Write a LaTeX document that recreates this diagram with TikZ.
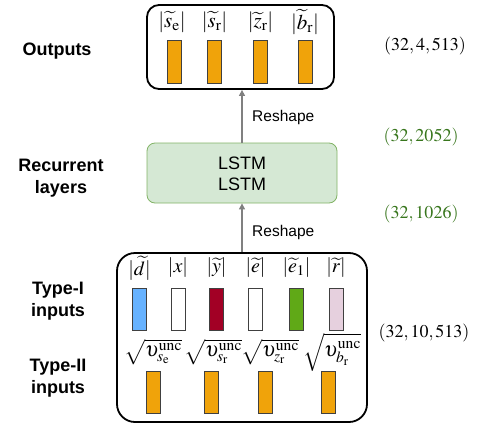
\documentclass[tikz,border=0pt]{standalone}
\IfFileExists{mathptmx.sty}{\usepackage{mathptmx}}{}
\usepackage{fontspec}
\setmainfont{Liberation Serif}
\newfontfamily\lsans{Liberation Sans}
\usetikzlibrary{arrows.meta}
\definecolor{barorange}{HTML}{F0A30A}
\definecolor{barblue}{HTML}{66B2FF}
\definecolor{barred}{HTML}{A20025}
\definecolor{bargreen}{HTML}{60A917}
\definecolor{barpink}{HTML}{E6D0DE}
\definecolor{lstmfill}{HTML}{D5E8D4}
\definecolor{lstmdraw}{HTML}{82B366}
\definecolor{dimgreen}{RGB}{56,118,29}
\begin{document}
\begin{tikzpicture}[x=1pt,y=-1pt,
  bigbox/.style={draw=black,line width=1.8pt,rounded corners=12pt,inner sep=0pt},
  bar/.style={draw=black!75,line width=0.8pt,minimum width=14pt,minimum height=43pt,inner sep=0pt},
  olabel/.style={inner sep=0pt,font=\fontsize{21}{24}\selectfont},
  ilabel/.style={inner sep=0pt,font=\fontsize{20}{24}\selectfont},
  slabel/.style={inner sep=0pt,font=\fontsize{21}{24}\selectfont},
  side/.style={inner sep=0pt,align=center,font=\lsans\bfseries\fontsize{18}{22}\selectfont},
  dim/.style={inner sep=0pt,font=\fontsize{18}{20}\selectfont},
  reshape/.style={anchor=west,inner sep=0pt,font=\lsans\fontsize{15.5}{18}\selectfont},
  lstmtext/.style={inner sep=0pt,font=\lsans\fontsize{18}{20}\selectfont},
  arr/.style={draw=black!50,line width=1.3pt,-{Triangle[length=6pt,width=6pt]}}]
\useasboundingbox (0,0) rectangle (481,428);

% boxes
\node[bigbox,minimum width=187pt,minimum height=84pt] (out) at (240.5,47) {};
\node[draw=lstmdraw,fill=lstmfill,line width=0.8pt,rounded corners=8pt,minimum width=190pt,minimum height=60pt,inner sep=0pt] (lstm) at (242,173) {};
\node[lstmtext] (l1) at (242,163) {LSTM};
\node[lstmtext] (l2) at (242,184) {LSTM};
\node[bigbox,rounded corners=18pt,minimum width=250pt,minimum height=169pt] (in) at (242,337.5) {};

% arrows
\draw[arr] (in.north) -- (in.north |- lstm.south);
\draw[arr] (lstm.north) -- (lstm.north |- out.south);
\node[reshape] (r1) at (252,117) {Reshape};
\node[reshape] (r2) at (252,232) {Reshape};

% output labels and bars
\node[olabel] (o1) at (172,22) {$|\widetilde{s}_{\mathrm{e}}|$};
\node[olabel] (o2) at (214.5,22) {$|\widetilde{s}_{\mathrm{r}}|$};
\node[olabel] (o3) at (260.5,22) {$|\widetilde{z}_{\mathrm{r}}|$};
\node[olabel] (o4) at (305,22) {$|\widetilde{b}_{\mathrm{r}}|$};
\node[bar,fill=barorange] (ob1) at (174.5,61.5) {};
\node[bar,fill=barorange] (ob2) at (214.5,61.5) {};
\node[bar,fill=barorange] (ob3) at (260.5,61.5) {};
\node[bar,fill=barorange] (ob4) at (305,61.5) {};

% type-I inputs
\node[ilabel] (i1) at (139.5,268) {$|\widetilde{d}|$};
\node[ilabel] (i2) at (178,268) {$|x|$};
\node[ilabel] (i3) at (216.5,268) {$|\widetilde{y}|$};
\node[ilabel] (i4) at (255.5,268) {$|\widetilde{e}|$};
\node[ilabel] (i5) at (296.5,268) {$|\widetilde{e}_1|$};
\node[ilabel] (i6) at (336,268) {$|\widetilde{r}|$};
\node[bar,fill=barblue,minimum height=42pt] (ib1) at (139.5,309) {};
\node[bar,fill=white,minimum height=42pt] (ib2) at (178,309) {};
\node[bar,fill=barred,minimum height=42pt] (ib3) at (216.5,309) {};
\node[bar,fill=white,minimum height=42pt] (ib4) at (255.5,309) {};
\node[bar,fill=bargreen,minimum height=42pt] (ib5) at (296.5,309) {};
\node[bar,fill=barpink,minimum height=42pt] (ib6) at (336,309) {};

% type-II inputs
\node[slabel] (s1) at (153,352) {$\sqrt{\upsilon^{\mathrm{unc}}_{s_{\mathrm{e}}}}$};
\node[slabel] (s2) at (213,352) {$\sqrt{\upsilon^{\mathrm{unc}}_{s_{\mathrm{r}}}}$};
\node[slabel] (s3) at (270,352) {$\sqrt{\upsilon^{\mathrm{unc}}_{z_{\mathrm{r}}}}$};
\node[slabel] (s4) at (332,352) {$\sqrt{\upsilon^{\mathrm{unc}}_{b_{\mathrm{r}}}}$};
\node[bar,fill=barorange,minimum height=42pt] (tb1) at (153.5,392) {};
\node[bar,fill=barorange,minimum height=42pt] (tb2) at (211.5,392) {};
\node[bar,fill=barorange,minimum height=42pt] (tb3) at (265.5,392) {};
\node[bar,fill=barorange,minimum height=42pt] (tb4) at (328.5,392) {};

% side labels
\node[side] (sOut) at (57,51) {Outputs};
\node[side] (sRec) at (61,178) {Recurrent\\layers};
\node[side] (sT1) at (58,301) {Type-I\\inputs};
\node[side] (sT2) at (58,378) {Type-II\\inputs};

% dimensions
\node[dim] (d1) at (425,46) {$(32,4,513)$};
\node[dim,text=dimgreen] (d2) at (421,137) {$(32,2052)$};
\node[dim,text=dimgreen] (d3) at (421,214) {$(32,1026)$};
\node[dim] (d4) at (424,333) {$(32,10,513)$};
\end{tikzpicture}
\end{document}
